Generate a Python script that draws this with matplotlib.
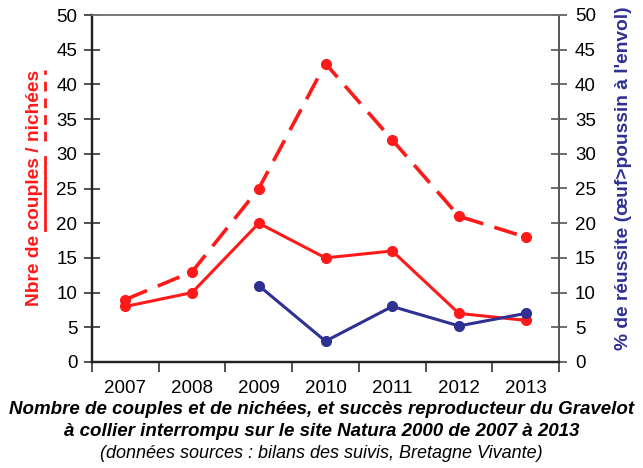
import matplotlib
matplotlib.use('Agg')
import matplotlib.pyplot as plt
from matplotlib.lines import Line2D

plt.rcParams['font.family'] = ['Liberation Sans', 'DejaVu Sans']

years = ['2007', '2008', '2009', '2010', '2011', '2012', '2013']
couples = [8, 10, 20, 15, 16, 7, 6]
nichees = [9, 13, 25, 43, 32, 21, 18]
reussite_years = ['2009', '2010', '2011', '2012', '2013']
reussite = [11, 3, 8, 5.2, 7]

RED = '#ff1a1a'
BLUE = '#2e3192'
FS = 13.5

fig = plt.figure(figsize=(6.43, 4.68), dpi=100)
ax = fig.add_axes([92 / 643, 1 - 362 / 468, (559 - 92) / 643, (362 - 15) / 468])
ax2 = ax.twinx()

xs = list(range(len(years)))
xr = [years.index(y) for y in reussite_years]

ax.plot(xs, nichees, color=RED, lw=2.6, ls=(0, (6.5, 3.2)), marker='o', ms=7, zorder=3)
ax.plot(xs, couples, color=RED, lw=2.2, marker='o', ms=7, zorder=3)
ax2.plot(xr, reussite, color=BLUE, lw=2.2, marker='o', ms=7, zorder=3)

ax.set_xlim(-0.5, len(years) - 0.5)
ax.set_ylim(0, 50)
ax2.set_ylim(0, 50)
ax.set_yticks(range(0, 51, 5))
ax2.set_yticks(range(0, 51, 5))

ax.set_xticks(xs)
ax.set_xticklabels(years)
ax.set_xticks([i - 0.5 for i in range(len(years) + 1)], minor=True)
ax.tick_params(axis='x', which='major', length=0, pad=13, labelsize=FS)
ax.tick_params(axis='x', which='minor', length=7, width=1.2, direction='out', color='#333333')
ax.tick_params(axis='y', direction='inout', length=11, width=1.2, pad=5, labelsize=FS, color='#333333')
ax2.tick_params(axis='y', direction='inout', length=11, width=1.2, pad=6, labelsize=FS, color='#555555')

for a in (ax, ax2):
    a.spines['left'].set_color('#222222')
    a.spines['bottom'].set_color('#222222')
    a.spines['left'].set_linewidth(1.6)
    a.spines['bottom'].set_linewidth(1.6)
    a.spines['top'].set_color('#777777')
    a.spines['right'].set_color('#555555')
    a.spines['top'].set_linewidth(1.2)
    a.spines['right'].set_linewidth(1.2)

# axis titles
LFS = 13.8
label = 'Nbre de couples / nichées'
left_lbl = fig.text(35 / 643, 1 - 188 / 468, label, color=RED, fontsize=LFS, fontweight='bold',
                    rotation=90, ha='center', va='center')
fig.text(623 / 643, 1 - 178 / 468, "% de réussite (œuf>poussin à l'envol)", color=BLUE,
         fontsize=LFS, fontweight='bold', rotation=90, ha='center', va='center')

# underline "couples" (solid) and "nichées" (dashed)
fig.canvas.draw()
r = fig.canvas.get_renderer()


def text_len(s):
    t = fig.text(0, 0, s, fontsize=LFS, fontweight='bold', rotation=90)
    h = t.get_window_extent(r).height
    t.remove()
    return h


bb = left_lbl.get_window_extent(r)
total = bb.height
y0 = bb.y0
c_end = text_len('Nbre de couples')
c_start = c_end - text_len('couples')
n_start = total - text_len('nichées')
ux = (bb.x1 + 1.5) / fig.bbox.width
H = fig.bbox.height
fig.add_artist(Line2D([ux, ux], [(y0 + c_start) / H, (y0 + c_end) / H],
                      color=RED, lw=2, transform=fig.transFigure))
fig.add_artist(Line2D([ux, ux], [(y0 + n_start) / H, (y0 + total) / H],
                      color=RED, lw=2, ls=(0, (3.5, 2.5)), transform=fig.transFigure))

# caption
fig.text(0.5, 1 - 410 / 468, 'Nombre de couples et de nichées, et succès reproducteur du Gravelot',
         ha='center', va='center', fontsize=FS, fontweight='bold', style='italic')
fig.text(0.5, 1 - 432 / 468, 'à collier interrompu sur le site Natura 2000 de 2007 à 2013',
         ha='center', va='center', fontsize=FS, fontweight='bold', style='italic')
fig.text(0.5, 1 - 454 / 468, '(données sources : bilans des suivis, Bretagne Vivante)',
         ha='center', va='center', fontsize=13, style='italic')

fig.savefig('out.png', dpi=100)
